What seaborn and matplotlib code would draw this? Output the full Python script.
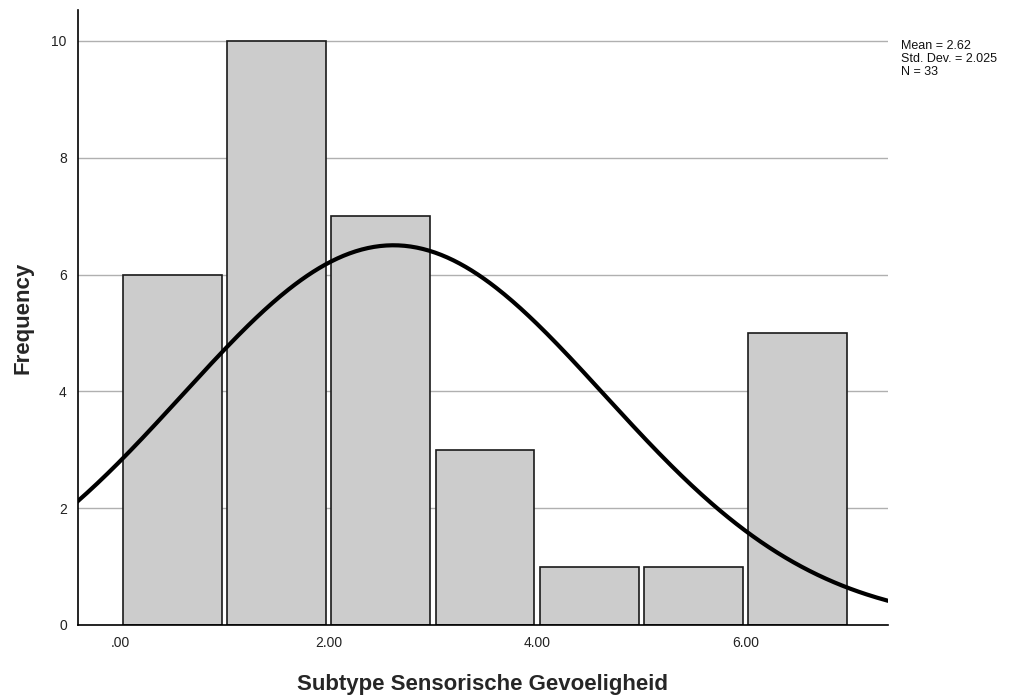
import numpy as np
import pandas as pd
import matplotlib
matplotlib.use("Agg")
import matplotlib.pyplot as plt
import seaborn as sns

# Histogram bins (lower edges) and frequencies
bin_starts = [0, 1, 2, 3, 4, 5, 6]
frequencies = [6, 10, 7, 3, 1, 1, 5]
x_ticks = [0, 2, 4, 6]
x_tick_labels = [".00", "2.00", "4.00", "6.00"]
y_ticks = [0, 2, 4, 6, 8, 10]

mean_val = 2.62
sd_val = 2.025
n_val = 33

sns.set_theme(style="white")
plt.rcParams["font.family"] = ["Liberation Sans", "DejaVu Sans"]

fig = plt.figure(figsize=(10.19, 6.97), dpi=100)
ax = fig.add_axes([0.0765, 0.1033, 0.7949, 0.8824])

df = pd.DataFrame({"value": [b + 0.5 for b in bin_starts], "count": frequencies})
sns.histplot(data=df, x="value", weights="count", binwidth=1, binrange=(0, 7),
             shrink=0.95, color="#cccccc", alpha=1, edgecolor="#1a1a1a",
             linewidth=1.2, ax=ax, zorder=2)

# Normal curve scaled to counts (bin width 1)
xs = np.linspace(-0.42, 7.38, 400)
ys = n_val * 1.0 / (sd_val * np.sqrt(2 * np.pi)) * np.exp(-0.5 * ((xs - mean_val) / sd_val) ** 2)
sns.lineplot(x=xs, y=ys, color="black", linewidth=3, ax=ax, zorder=3)

ax.set_xlim(-0.41, 7.37)
ax.set_ylim(0, 10.53)
ax.set_xticks(x_ticks)
ax.set_xticklabels(x_tick_labels)
ax.set_yticks(y_ticks)
ax.yaxis.grid(True, color="#b0b0b0", linewidth=1, zorder=0)
ax.xaxis.grid(False)
ax.set_axisbelow(True)
ax.tick_params(axis="both", length=0, labelsize=10, colors="#222222", pad=8)

for side in ["top", "right"]:
    ax.spines[side].set_visible(False)
for side in ["left", "bottom"]:
    ax.spines[side].set_color("black")
    ax.spines[side].set_linewidth(1.2)

ax.set_xlabel("Subtype Sensorische Gevoeligheid", fontsize=16, fontweight="bold", labelpad=17)
ax.set_ylabel("Frequency", fontsize=16, fontweight="bold", labelpad=13)

fig.text(0.884, 0.942, f"Mean = {mean_val:.2f}\nStd. Dev. = {sd_val:.3f}\nN = {n_val}",
         fontsize=9, va="top", ha="left", linespacing=1.1, color="#111111")

fig.savefig("out.png", dpi=100, facecolor="white")
